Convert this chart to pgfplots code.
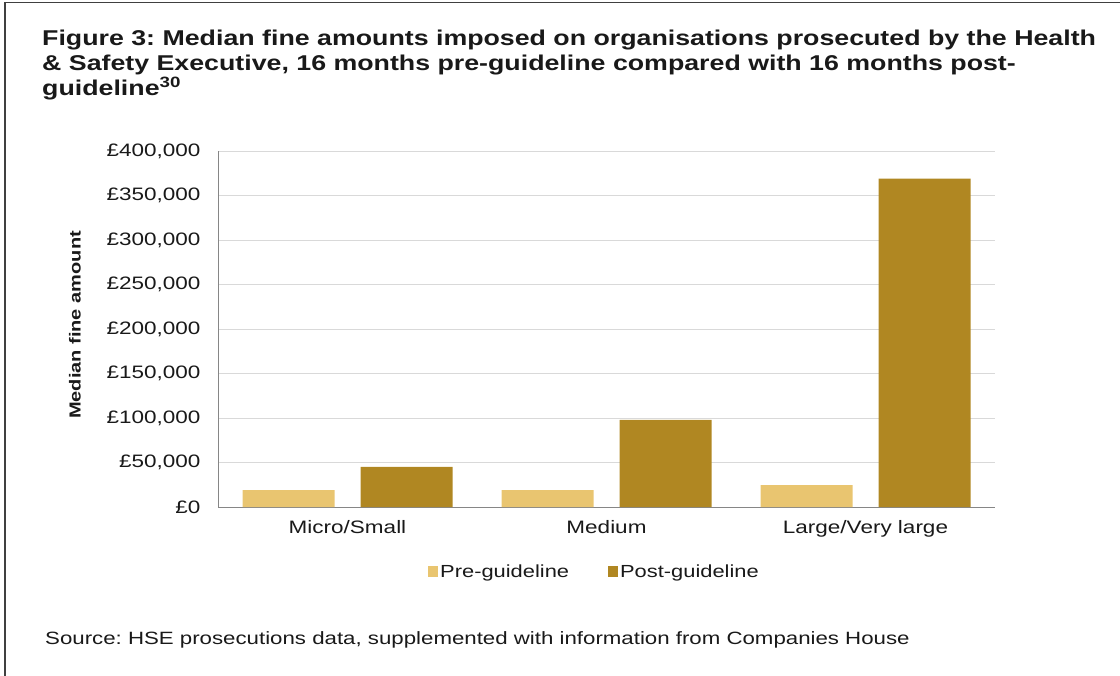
\documentclass[border=0pt]{standalone}
\usepackage{pgfplots}
\pgfplotsset{compat=1.18}
\usepackage{fontspec}
\setmainfont{Liberation Sans}[FakeStretch=1.25]
\frenchspacing
\definecolor{pre}{RGB}{233,197,112}
\definecolor{post}{RGB}{176,135,34}
\definecolor{gridc}{RGB}{217,217,217}
\definecolor{axc}{RGB}{134,134,134}
\definecolor{txt}{RGB}{25,25,25}
\begin{document}
\begin{tikzpicture}
\useasboundingbox (0,0) rectangle (1120bp,-676bp);
\draw[line width=1.5bp, black!75] (5bp,-676bp) -- (5bp,-2.5bp) -- (1120bp,-2.5bp);
\node[anchor=base west, inner sep=0, text=txt, font=\fontsize{21.4bp}{25bp}\selectfont\bfseries] at (42bp,-45bp) {Figure 3: Median fine amounts imposed on organisations prosecuted by the Health};
\node[anchor=base west, inner sep=0, text=txt, font=\fontsize{21.4bp}{25bp}\selectfont\bfseries] at (42bp,-70bp) {\& Safety Executive, 16 months pre-guideline compared with 16 months post-};
\node[anchor=base west, inner sep=0, text=txt, font=\fontsize{21.4bp}{25bp}\selectfont\bfseries] at (42bp,-95bp) {guideline\textsuperscript{30}};
\node[rotate=90, text=txt, font=\fontsize{16bp}{18bp}\selectfont\bfseries] at (75bp,-325bp) {Median fine amount};
\node[anchor=base west, inner sep=0, text=txt, font=\fontsize{17.8bp}{21bp}\selectfont] at (45bp,-644bp) {Source: HSE prosecutions data, supplemented with information from Companies House};
\begin{axis}[
  at={(218bp,-507bp)}, anchor=south west,
  width=777bp, height=356bp, scale only axis,
  xmin=-0.5, xmax=2.5, ymin=0, ymax=400000,
  ybar, bar width=92bp,
  axis x line*=bottom, axis y line*=left,
  axis line style={axc, line width=1bp, -},
  ymajorgrids, grid style={gridc, line width=1bp},
  xtick={0,1,2}, xticklabels={Micro/Small,Medium,Large/Very large},
  ytick={0,50000,100000,150000,200000,250000,300000,350000,400000},
  yticklabels={{£0},{£50,000},{£100,000},{£150,000},{£200,000},{£250,000},{£300,000},{£350,000},{£400,000}},
  scaled y ticks=false,
  major tick length=0pt,
  tick label style={font=\fontsize{18bp}{20bp}\selectfont, text=txt},
  xticklabel style={yshift=-10bp},
  yticklabel style={xshift=-14bp},
  legend columns=2,
  legend style={draw=none, at={(axis description cs:0.5,0)}, anchor=center, yshift=-65bp, xshift=-12bp,
    font=\fontsize{17.5bp}{21bp}\selectfont, text=txt,
    /tikz/every even column/.append style={column sep=37bp}},
  legend image code/.code={\draw[#1, draw=none] (0bp,-5bp) rectangle (10bp,6bp);},
]
\addplot[fill=pre, draw=none, bar shift=-59bp] coordinates {(0,19000) (1,19000) (2,24500)};
\addplot[fill=post, draw=none, bar shift=59bp] coordinates {(0,45000) (1,98000) (2,369000)};
\legend{Pre-guideline, Post-guideline}
\end{axis}
\end{tikzpicture}
\end{document}
